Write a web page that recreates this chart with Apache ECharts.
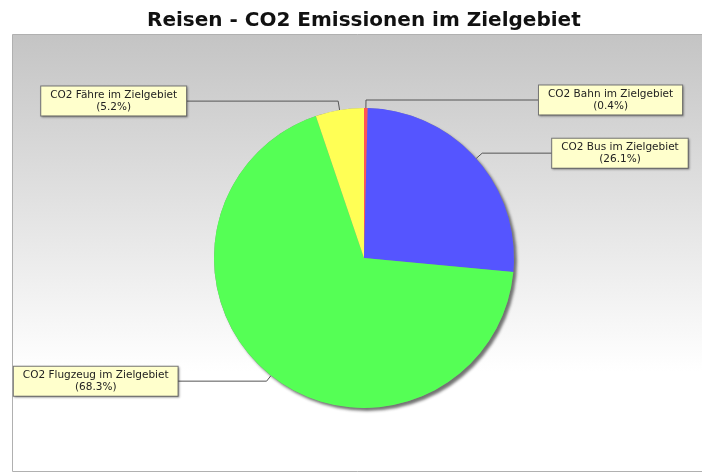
<!DOCTYPE html>
<html><head><meta charset="utf-8">
<script src="https://cdn.jsdelivr.net/npm/echarts@6/dist/echarts.min.js"></script>
<style>html,body{margin:0;padding:0;background:#fff}#c{width:702px;height:474px}</style>
</head><body><div id="c"></div>
<script>
const titleText = 'Reisen - CO2 Emissionen im Zielgebiet';
const categories = ['CO2 Bahn im Zielgebiet', 'CO2 Bus im Zielgebiet', 'CO2 Flugzeug im Zielgebiet', 'CO2 Fähre im Zielgebiet'];
const values = [0.4, 26.1, 68.3, 5.2];
const colors = ['#ff5555', '#5555ff', '#55ff55', '#ffff55'];
// label line segment lengths (style only)
const lineFirst = [8, 8, 7, 9];
const lineSecond = [173, 70, 89, 152];

const chart = echarts.init(document.getElementById('c'), null, {renderer: 'canvas'});
const data = categories.map((name, i) => ({
  name: name,
  value: values[i],
  itemStyle: {color: colors[i]},
  labelLine: {length: lineFirst[i], length2: lineSecond[i]}
}));

chart.setOption({
  animation: false,
  backgroundColor: '#ffffff',
  title: {
    text: titleText,
    left: 142,
    top: 6,
    textStyle: {fontFamily: 'DejaVu Sans', fontSize: 20, fontWeight: 'bold', color: '#111'}
  },
  graphic: [{
    type: 'rect',
    z: 0,
    silent: true,
    shape: {x: 12.5, y: 34.5, width: 700, height: 437},
    style: {
      fill: new echarts.graphic.LinearGradient(0, 0, 0, 1, [
        {offset: 0, color: '#c4c4c4'},
        {offset: 0.77, color: '#ffffff'},
        {offset: 1, color: '#ffffff'}
      ]),
      stroke: '#b0b0b0',
      lineWidth: 1
    }
  }],
  series: [
    {
      type: 'pie',
      z: 3,
      silent: true,
      center: [364, 258],
      radius: 150,
      startAngle: 90,
      data: [{value: 1, itemStyle: {color: '#888888'}}],
      itemStyle: {shadowColor: 'rgba(100,100,100,0.9)', shadowBlur: 3, shadowOffsetX: 3, shadowOffsetY: 3},
      label: {show: false},
      labelLine: {show: false}
    },
    {
      type: 'pie',
      z: 4,
      center: [364, 258],
      radius: 150,
      startAngle: 90,
      clockwise: true,
      avoidLabelOverlap: false,
      percentPrecision: 1,
      data: data,
      itemStyle: {borderWidth: 0},
      label: {
        show: true,
        position: 'outside',
        formatter: '{t|{b}}\n{t|({d}%)}',
        fontFamily: 'DejaVu Sans',
        fontSize: 10.5,
        lineHeight: 12,
        color: '#222',
        backgroundColor: '#ffffcc',
        borderColor: '#777',
        borderWidth: 1,
        padding: [3, 9, 2, 9],
        distanceToLabelLine: 0,
        shadowColor: 'rgba(0,0,0,0.25)',
        shadowBlur: 2,
        shadowOffsetX: 1,
        shadowOffsetY: 1,
        rich: {
          t: {align: 'center', fontFamily: 'DejaVu Sans', fontSize: 10.5, lineHeight: 12, color: '#222'}
        }
      },
      labelLine: {show: true, lineStyle: {color: '#555', width: 1}}
    }
  ]
});
</script>
</body></html>
